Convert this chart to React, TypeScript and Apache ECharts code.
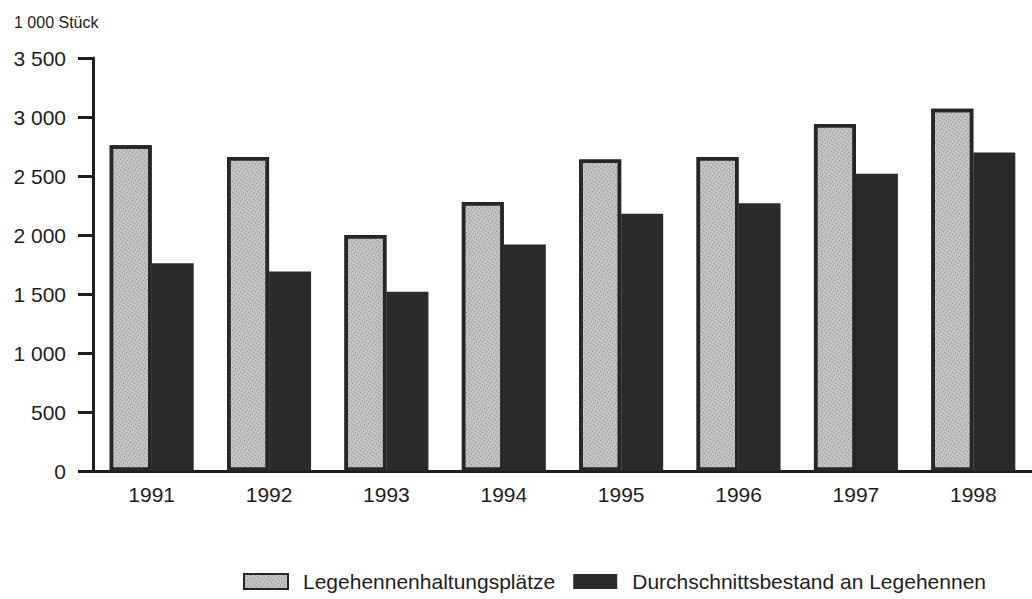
import React, { useEffect, useRef } from "react";
import * as echarts from "echarts";

const years = ["1991", "1992", "1993", "1994", "1995", "1996", "1997", "1998"];
const plaetze = [2760, 2660, 2000, 2280, 2640, 2660, 2940, 3070];
const bestand = [1760, 1690, 1520, 1920, 2180, 2270, 2520, 2700];
const yTickLabels: Record<number, string> = {
  0: "0",
  500: "500",
  1000: "1 000",
  1500: "1 500",
  2000: "2 000",
  2500: "2 500",
  3000: "3 000",
  3500: "3 500",
};
const seriesNames = ["Legehennenhaltungsplätze", "Durchschnittsbestand an Legehennen"];
const unitLabel = "1 000 Stück";

const FONT = "'Liberation Sans', Arial, Helvetica, sans-serif";
const INK = "#1e1e1e";

export default function App() {
  const ref = useRef<HTMLDivElement>(null);
  useEffect(() => {
    if (!ref.current) return;
    const chart = echarts.init(ref.current, undefined, { renderer: "svg" });
    chart.setOption({
      animation: false,
      backgroundColor: "#ffffff",
      textStyle: { fontFamily: FONT, color: INK },
      title: {
        text: unitLabel,
        left: 9,
        top: 9,
        textStyle: { fontFamily: FONT, fontSize: 16, fontWeight: "normal", color: INK },
      },
      legend: {
        left: 238,
        top: 566,
        icon: "rect",
        itemWidth: 44,
        itemHeight: 15,
        itemGap: 18,
        textStyle: { fontFamily: FONT, fontSize: 21, color: INK, padding: [0, 0, 0, 10] },
        data: seriesNames,
      },
      grid: { left: 93, top: 58, width: 946, height: 413, containLabel: false },
      xAxis: {
        type: "category",
        data: years,
        axisLine: { lineStyle: { color: INK, width: 3 } },
        axisTick: { show: false },
        axisLabel: { fontFamily: FONT, fontSize: 21, color: INK, margin: 13 },
      },
      yAxis: {
        type: "value",
        min: 0,
        max: 3500,
        interval: 500,
        axisLine: { show: true, lineStyle: { color: INK, width: 3 } },
        axisTick: { show: true, length: 15, lineStyle: { color: INK, width: 3 } },
        splitLine: { show: false },
        axisLabel: {
          fontFamily: FONT,
          fontSize: 21,
          color: INK,
          margin: 27,
          formatter: (v: number) => yTickLabels[v] ?? String(v),
        },
      },
      series: [
        {
          name: seriesNames[0],
          type: "bar",
          data: plaetze,
          barWidth: 42,
          barGap: "0%",
          itemStyle: {
            color: "#c4c4c4",
            borderColor: "#262626",
            borderWidth: 3.5,
            decal: {
              symbol: "rect",
              symbolSize: 1,
              dashArrayX: [1, 2],
              dashArrayY: [1, 2],
              rotation: 0.6,
              color: "rgba(70,70,70,0.55)",
            },
          },
        },
        {
          name: seriesNames[1],
          type: "bar",
          data: bestand,
          barWidth: 42,
          barGap: "0%",
          itemStyle: { color: "#2a2a2a" },
        },
      ],
    });
    return () => chart.dispose();
  }, []);
  return (
    <div
      ref={ref}
      style={{ position: "fixed", left: 0, top: 0, width: 1032, height: 599, background: "#fff" }}
    />
  );
}
